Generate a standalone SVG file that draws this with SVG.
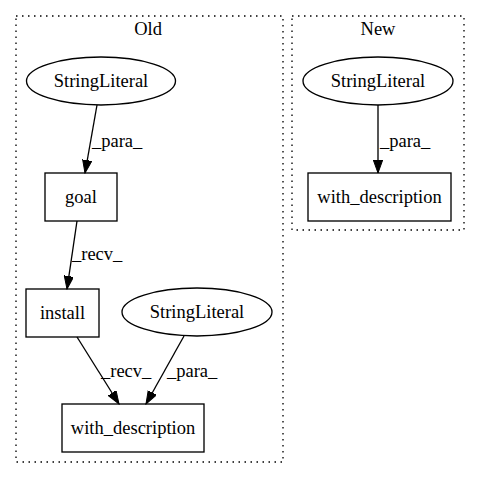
<svg xmlns="http://www.w3.org/2000/svg" width="480" height="480" viewBox="0 0 480 480">
<defs>
<style>
text{font-family:"Liberation Serif","Times New Roman",serif;font-size:18.5px;fill:#000}
.n{text-anchor:middle}
.shape{fill:none;stroke:#000;stroke-width:1.33}
.cl{fill:none;stroke:#000;stroke-width:1.33;stroke-dasharray:1.5,4.5}
.e{fill:none;stroke:#000;stroke-width:1.33}
</style>
<marker id="arr" markerUnits="userSpaceOnUse" markerWidth="14" markerHeight="10" refX="13" refY="4.7" orient="auto">
<path d="M0,0 L13,4.7 L0,9.4 z" fill="#000" stroke="#000" stroke-width="1"/>
</marker>
</defs>
<rect width="480" height="480" fill="#fff"/>
<g id="cluster_old">
<rect class="cl" x="16" y="16" width="267" height="446"/>
<text class="n" x="148" y="35">Old</text>
</g>
<g id="cluster_new">
<rect class="cl" x="292" y="16" width="172" height="214"/>
<text class="n" x="378" y="35">New</text>
</g>
<g id="edges">
<line class="e" x1="97" y1="105" x2="85" y2="173" marker-end="url(#arr)"/>
<text x="92" y="147">_para_</text>
<line class="e" x1="77" y1="221" x2="67" y2="289" marker-end="url(#arr)"/>
<text x="72" y="260">_recv_</text>
<line class="e" x1="77" y1="337" x2="119" y2="404" marker-end="url(#arr)"/>
<text x="101" y="377">_recv_</text>
<line class="e" x1="184" y1="336" x2="146" y2="404" marker-end="url(#arr)"/>
<text x="167" y="377">_para_</text>
<line class="e" x1="378" y1="105" x2="378" y2="173" marker-end="url(#arr)"/>
<text x="380" y="147">_para_</text>
</g>
<g id="old_stringliteral1">
<ellipse class="shape" cx="101" cy="81" rx="74.5" ry="24"/>
<text class="n" x="101" y="87">StringLiteral</text>
</g>
<g id="old_goal">
<rect class="shape" x="45" y="173" width="72" height="48"/>
<text class="n" x="81" y="203">goal</text>
</g>
<g id="old_install">
<rect class="shape" x="26" y="289" width="73" height="48"/>
<text class="n" x="62.5" y="319">install</text>
</g>
<g id="old_stringliteral2">
<ellipse class="shape" cx="197" cy="312" rx="75" ry="24"/>
<text class="n" x="197" y="318">StringLiteral</text>
</g>
<g id="old_with_description">
<rect class="shape" x="62" y="404" width="142" height="48"/>
<text class="n" x="133" y="434">with_description</text>
</g>
<g id="new_stringliteral">
<ellipse class="shape" cx="378" cy="81" rx="75" ry="24"/>
<text class="n" x="378" y="87">StringLiteral</text>
</g>
<g id="new_with_description">
<rect class="shape" x="308" y="173" width="143" height="48"/>
<text class="n" x="379.5" y="203">with_description</text>
</g>
</svg>
